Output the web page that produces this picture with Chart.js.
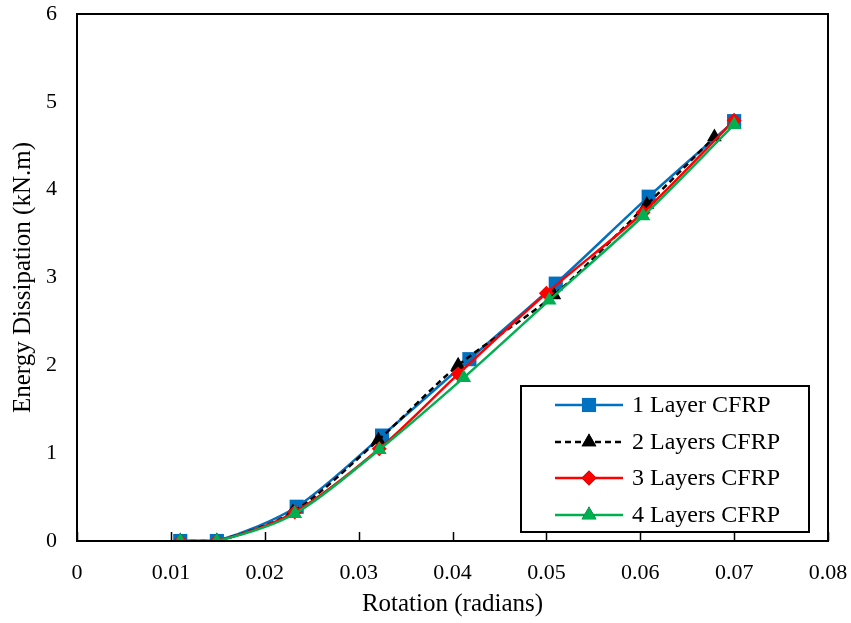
<!DOCTYPE html>
<html>
<head>
<meta charset="utf-8">
<script src="https://cdn.jsdelivr.net/npm/chart.js@4.4.1/dist/chart.umd.min.js"></script>
<style>
  html, body { margin: 0; padding: 0; background: #fff; }
</style>
</head>
<body>
<canvas id="myCanvas" width="851" height="623"></canvas>
<script>
// values
var seriesNames = ['1 Layer CFRP', '2 Layers CFRP', '3 Layers CFRP', '4 Layers CFRP'];
var rot1 = [0.011, 0.0149, 0.0234, 0.0325, 0.0418, 0.0510, 0.0609, 0.0700];
var energy1 = [0, 0, 0.39, 1.20, 2.07, 2.93, 3.92, 4.78];
var rot2 = [0.011, 0.0149, 0.0230, 0.0321, 0.0406, 0.0508, 0.0607, 0.0679];
var energy2 = [0, 0, 0.33, 1.15, 2.00, 2.80, 3.83, 4.60];
var rot3 = [0.011, 0.0149, 0.0232, 0.0322, 0.0406, 0.0500, 0.0603, 0.0700];
var energy3 = [0, 0, 0.33, 1.05, 1.90, 2.82, 3.74, 4.79];
var rot4 = [0.011, 0.0149, 0.0232, 0.0322, 0.0412, 0.0503, 0.0603, 0.0700];
var energy4 = [0, 0, 0.31, 1.04, 1.86, 2.74, 3.70, 4.74];
var xTicks = [0, 0.01, 0.02, 0.03, 0.04, 0.05, 0.06, 0.07, 0.08];
var yTicks = [0, 1, 2, 3, 4, 5, 6];

var serif = "'Liberation Serif', 'Times New Roman', serif";

function pts(xs, ys) {
    return xs.map(function (x, i) { return { x: x, y: ys[i] }; });
}

function series(label, xs, ys, color, style, radius, dash, order) {
    return {
        label: label,
        data: pts(xs, ys),
        showLine: true,
        tension: 0.3,
        borderColor: color,
        backgroundColor: color,
        borderWidth: 2.5,
        borderDash: dash,
        pointStyle: style,
        pointRadius: radius,
        pointHoverRadius: radius,
        pointBorderWidth: 0,
        order: order
    };
}

function noPad(s) {
    s.paddingLeft = 0; s.paddingRight = 0; s.paddingTop = 0; s.paddingBottom = 0;
}

// frame, inner x ticks and the legend box
var framePlugin = {
    id: 'frame',
    afterDraw: function (chart) {
        var ctx = chart.ctx, a = chart.chartArea;
        var xs = chart.scales.x;
        ctx.save();
        ctx.strokeStyle = '#000';
        ctx.lineWidth = 2;
        ctx.strokeRect(a.left, a.top, a.right - a.left, a.bottom - a.top);
        ctx.lineWidth = 1.5;
        xTicks.forEach(function (v) {
            var px = Math.round(xs.getPixelForValue(v)) + 0.5;
            ctx.beginPath();
            ctx.moveTo(px, a.bottom);
            ctx.lineTo(px, a.bottom - 9);
            ctx.stroke();
        });

        // legend
        var bx = 521, by = 386, bw = 288, bh = 146;
        ctx.fillStyle = '#fff';
        ctx.fillRect(bx, by, bw, bh);
        ctx.lineWidth = 2;
        ctx.strokeRect(bx, by, bw, bh);
        var rows = [405, 442, 478, 515];
        chart.data.datasets.forEach(function (ds, i) {
            var y = rows[i];
            ctx.strokeStyle = ds.borderColor;
            ctx.lineWidth = ds.borderWidth;
            ctx.setLineDash(ds.borderDash || []);
            ctx.beginPath();
            ctx.moveTo(555, y);
            ctx.lineTo(623, y);
            ctx.stroke();
            ctx.setLineDash([]);
            Chart.helpers.drawPoint(ctx, {
                pointStyle: ds.pointStyle,
                radius: ds.pointRadius,
                borderWidth: 0,
                rotation: 0
            }, 589, y);
            ctx.fillStyle = ds.backgroundColor;
            ctx.fill();
            ctx.fillStyle = '#000';
            ctx.font = '24px ' + serif;
            ctx.textBaseline = 'middle';
            ctx.textAlign = 'left';
            ctx.fillText(ds.label, 632, y + 1);
        });
        ctx.restore();
    }
};

var ctx_live = document.getElementById('myCanvas');
var myChart = new Chart(ctx_live, {
    type: 'scatter',
    data: {
        datasets: [
            series(seriesNames[0], rot1, energy1, '#0070C0', 'rect', 10, [], 4),
            series(seriesNames[1], rot2, energy2, '#000000', 'triangle', 8.5, [6, 4], 3),
            series(seriesNames[2], rot3, energy3, '#FF0000', 'rectRot', 7.5, [], 2),
            series(seriesNames[3], rot4, energy4, '#00B050', 'triangle', 8.5, [], 1)
        ]
    },
    options: {
        responsive: false,
        animation: false,
        layout: { padding: { top: 14, right: 23, left: 0, bottom: 0 } },
        plugins: {
            legend: { display: false },
            tooltip: { enabled: false }
        },
        scales: {
            x: {
                type: 'linear',
                min: 0,
                max: 0.08,
                afterBuildTicks: function (s) { s.ticks = xTicks.map(function (v) { return { value: v }; }); },
                afterFit: function (s) { s.height = 82; noPad(s); },
                grid: { display: false, drawTicks: false },
                border: { display: false },
                ticks: {
                    padding: 19,
                    color: '#000',
                    font: { family: serif, size: 22 },
                    maxRotation: 0,
                    callback: function (v) { return v === 0 ? '0' : v.toFixed(2); }
                },
                title: {
                    display: true,
                    text: 'Rotation (radians)',
                    color: '#000',
                    font: { family: serif, size: 25 },
                    padding: { top: 9 }
                }
            },
            y: {
                min: 0,
                max: 6,
                afterBuildTicks: function (s) { s.ticks = yTicks.map(function (v) { return { value: v }; }); },
                afterFit: function (s) { s.width = 77; noPad(s); },
                grid: { display: false, drawTicks: false },
                border: { display: false },
                ticks: {
                    padding: 20,
                    color: '#000',
                    font: { family: serif, size: 22 }
                },
                title: {
                    display: true,
                    text: 'Energy Dissipation (kN.m)',
                    color: '#000',
                    font: { family: serif, size: 25 },
                    padding: { top: 8 }
                }
            }
        }
    },
    plugins: [framePlugin]
});
</script>
</body>
</html>
